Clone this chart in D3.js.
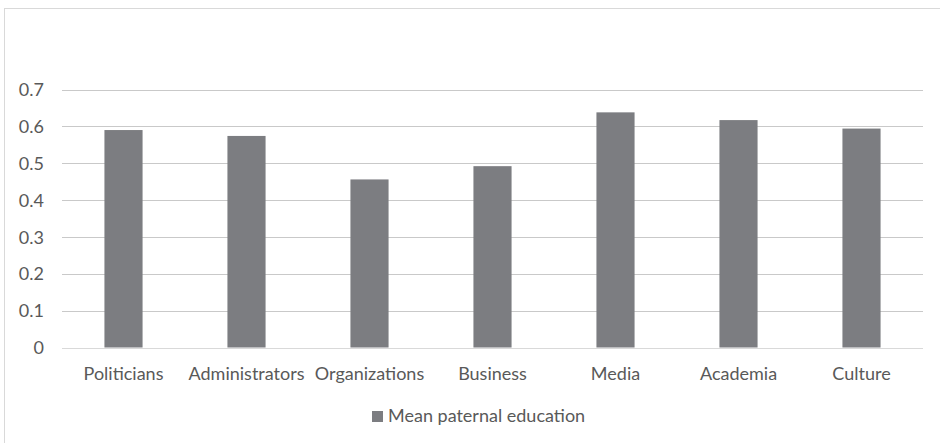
<!DOCTYPE html>
<html>
<head>
<meta charset="utf-8">
<script src="https://cdn.jsdelivr.net/npm/d3@7"></script>
<style>
  html, body { margin: 0; padding: 0; background: #fff; }
  svg { display: block; }
  text { font-family: Lato, "Open Sans", sans-serif; fill: #595959; }
</style>
</head>
<body>
<svg id="chart" width="940" height="443"></svg>
<script>
// Mean paternal education by elite group
const categories = ["Politicians", "Administrators", "Organizations", "Business", "Media", "Academia", "Culture"];
const values = [0.590, 0.574, 0.456, 0.492, 0.638, 0.617, 0.594];
const yTicks = [0, 0.1, 0.2, 0.3, 0.4, 0.5, 0.6, 0.7];
const tickLabels = ["0", "0.1", "0.2", "0.3", "0.4", "0.5", "0.6", "0.7"];
const seriesName = "Mean paternal education";

const svg = d3.select("#chart");
const W = 940, H = 443;
const plot = { left: 62, right: 923, top: 89.5, bottom: 347.5 };
const fontSize = 18;

// chart frame
svg.append("rect")
  .attr("x", 4.5).attr("y", 8.5)
  .attr("width", W + 20).attr("height", H + 20)
  .attr("fill", "#fff").attr("stroke", "#d9d9d9").attr("stroke-width", 1);

const x = d3.scaleBand()
  .domain(categories)
  .range([plot.left, plot.right])
  .paddingInner(0.69)
  .paddingOuter(0.345);

const y = d3.scaleLinear()
  .domain([0, 0.7])
  .range([plot.bottom, plot.top]);

// horizontal gridlines
svg.append("g")
  .selectAll("line")
  .data(yTicks.filter(d => d > 0))
  .join("line")
  .attr("x1", plot.left).attr("x2", plot.right)
  .attr("y1", d => Math.round(y(d)) + 0.5)
  .attr("y2", d => Math.round(y(d)) + 0.5)
  .attr("stroke", "#c9c9c9").attr("stroke-width", 1);

// y-axis tick labels
const yAxis = d3.axisLeft(y)
  .tickValues(yTicks)
  .tickFormat((d, i) => tickLabels[i])
  .tickSize(0)
  .tickPadding(0);
const gy = svg.append("g")
  .attr("transform", `translate(44,0)`)
  .call(yAxis);
gy.select(".domain").remove();
gy.selectAll("text")
  .attr("font-size", fontSize)
  .attr("font-family", null)
  .attr("fill", "#595959")
  .attr("dy", "0.34em");

// bars
svg.append("g")
  .selectAll("rect")
  .data(values)
  .join("rect")
  .attr("x", (d, i) => x(categories[i]))
  .attr("width", x.bandwidth())
  .attr("y", d => y(d))
  .attr("height", d => y(0) - y(d))
  .attr("fill", "#7c7d81");

// baseline
svg.append("line")
  .attr("x1", plot.left).attr("x2", plot.right)
  .attr("y1", Math.round(y(0)) + 0.5).attr("y2", Math.round(y(0)) + 0.5)
  .attr("stroke", "#d9d9d9").attr("stroke-width", 1);

// x-axis category labels
const xAxis = d3.axisBottom(x).tickSize(0).tickPadding(0);
const gx = svg.append("g")
  .attr("transform", `translate(0,${y(0)})`)
  .call(xAxis);
gx.select(".domain").remove();
gx.selectAll("text")
  .attr("font-size", fontSize)
  .attr("font-family", null)
  .attr("fill", "#595959")
  .attr("dy", null)
  .attr("y", 32);

// legend
const legend = svg.append("g").attr("transform", "translate(372,411)");
legend.append("rect")
  .attr("width", 11).attr("height", 11)
  .attr("fill", "#7c7d81");
legend.append("text")
  .attr("x", 16).attr("y", 11)
  .attr("font-size", fontSize)
  .text(seriesName);
</script>
</body>
</html>
